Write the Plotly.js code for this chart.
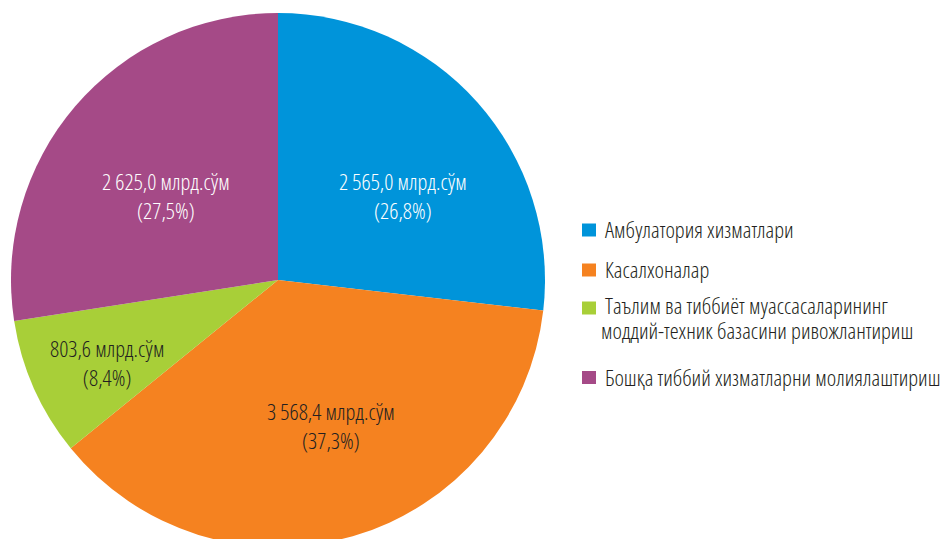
<!DOCTYPE html>
<html><head><meta charset="utf-8">
<script src="https://cdn.plot.ly/plotly-3.0.1.min.js"></script>
<style>html,body{margin:0;padding:0;overflow:hidden;background:#fff}
text{font-stretch:75% !important}</style>
</head><body><div id="chart"></div>
<script>
// ---- data ----
var categories = ["Амбулатория хизматлари", "Касалхоналар", "Таълим ва тиббиёт муассасаларининг\nмоддий-техник базасини ривожлантириш", "Бошқа тиббий хизматларни молиялаштириш"];
var values = [2565.0, 3568.4, 803.6, 2625.0];
var valueLabels = ["2 565,0", "3 568,4", "803,6", "2 625,0"];
var pctLabels = ["26,8", "37,3", "8,4", "27,5"];
var unit = "млрд.сўм";

// ---- styles / positions ----
var colors = ["#0094da", "#f58220", "#a8cf38", "#a54a87"];
var textColors = ["#ffffff", "#231f20", "#231f20", "#ffffff"];
var labelPos = [[403, 196], [331, 426], [107, 363], [166, 196]];
var legendY = [[229], [269], [305, 330], [377]];
var legendX = [[605], [605], [605, 601], [605]];
var squareY = [230, 270, 308, 377.5];
var W = 942, H = 560;
var FONT = '"Open Sans", sans-serif';
var FS = 22.5;
function px(x){return x / W;}
function py(y){return 1 - y / H;}

var annotations = [], shapes = [];
for (var i = 0; i < values.length; i++) {
  annotations.push({
    xref: "paper", yref: "paper", x: px(labelPos[i][0]), y: py(labelPos[i][1]),
    text: valueLabels[i] + " " + unit + "<br>(" + pctLabels[i] + "%)",
    showarrow: false, align: "center", xanchor: "center", yanchor: "middle",
    font: {family: FONT, size: FS, color: textColors[i], weight: 300}
  });
  var lines = categories[i].split("\n");
  for (var j = 0; j < lines.length; j++) {
    annotations.push({
      xref: "paper", yref: "paper", x: px(legendX[i][j] - 1), y: py(legendY[i][j]),
      text: lines[j], showarrow: false, xanchor: "left", yanchor: "middle", borderpad: 0,
      font: {family: FONT, size: FS, color: "#231f20", weight: 300}
    });
  }
  shapes.push({
    type: "rect", xref: "paper", yref: "paper",
    x0: px(582), x1: px(596), y0: py(squareY[i] - 6.5), y1: py(squareY[i] + 6.5),
    fillcolor: colors[i], line: {width: 0}
  });
}

var trace = {
  type: "pie", values: values, labels: categories.map(function(c){return c.replace("\n"," ");}),
  sort: false, direction: "clockwise", rotation: 0,
  marker: {colors: colors, line: {width: 0}},
  textinfo: "none", hoverinfo: "none",
  domain: {x: [11 / W, 545 / W], y: [13 / H, 547 / H]}
};

Plotly.newPlot("chart", [trace], {
  width: W, height: H, margin: {l: 0, r: 0, t: 0, b: 0},
  showlegend: false, paper_bgcolor: "#ffffff",
  annotations: annotations, shapes: shapes,
  font: {family: FONT}
}, {displayModeBar: false, staticPlot: true});
</script></body></html>
